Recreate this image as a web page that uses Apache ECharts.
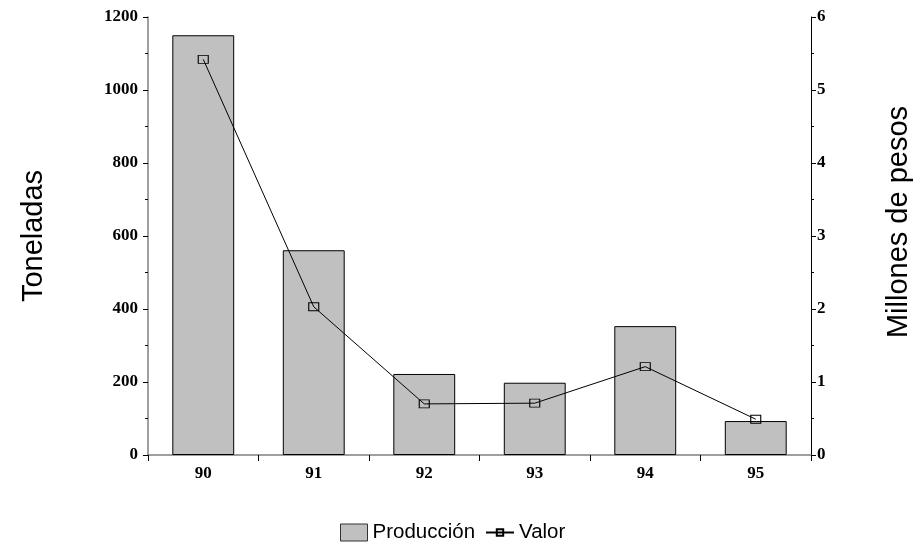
<!DOCTYPE html>
<html>
<head>
<meta charset="utf-8">
<script src="https://cdn.jsdelivr.net/npm/echarts@6/dist/echarts.min.js"></script>
<style>
html, body { margin: 0; padding: 0; background: #fff; }
#chart { width: 917px; height: 546px; }
</style>
</head>
<body>
<div id="chart"></div>
<script>
var years = ['90', '91', '92', '93', '94', '95'];
var produccion = [1150, 561, 222, 198, 353, 93];
var valor = [5.42, 2.03, 0.70, 0.71, 1.21, 0.49];

var labelFont = {
    fontFamily: '"Liberation Serif", "Times New Roman", serif',
    fontWeight: 'bold',
    fontSize: 17,
    color: '#000'
};
var sansFont = '"Liberation Sans", Arial, sans-serif';
var legendText = { fontFamily: sansFont, fontSize: 20.5, color: '#000' };

var chart = echarts.init(document.getElementById('chart'));
chart.setOption({
    animation: false,
    backgroundColor: '#fff',
    grid: { left: 148, right: 106, top: 17, bottom: 91, outerBoundsMode: 'none', containLabel: false },
    legend: [
        {
            left: 335, top: 517,
            itemWidth: 27, itemHeight: 17,
            textStyle: legendText,
            itemStyle: { borderWidth: 1, borderColor: '#333' },
            data: [{ name: 'Producción', icon: 'rect' }]
        },
        {
            left: 480, top: 517,
            itemWidth: 28, itemHeight: 8,
            textStyle: legendText,
            data: ['Valor']
        }
    ],
    xAxis: {
        type: 'category',
        data: years,
        axisLine: { lineStyle: { color: '#808080', width: 1.5 } },
        axisTick: { show: true, length: 6, lineStyle: { color: '#000' } },
        axisLabel: Object.assign({ margin: 10 }, labelFont)
    },
    yAxis: [
        {
            type: 'value',
            min: 0, max: 1200, interval: 200,
            name: 'Toneladas',
            nameLocation: 'middle',
            nameRotate: 90,
            nameGap: 100,
            nameTextStyle: { fontFamily: sansFont, fontSize: 29, color: '#000' },
            axisLine: { show: true, lineStyle: { color: '#808080', width: 1.5 } },
            axisTick: { show: true, length: 5, lineStyle: { color: '#000' } },
            minorTick: { show: true, splitNumber: 2, length: 3, lineStyle: { color: '#000' } },
            splitLine: { show: false },
            axisLabel: Object.assign({ margin: 10, formatter: function (v) { return String(v); } }, labelFont)
        },
        {
            type: 'value',
            min: 0, max: 6, interval: 1,
            name: 'Millones de pesos',
            nameLocation: 'middle',
            nameRotate: 90,
            nameGap: 73,
            nameTextStyle: { fontFamily: sansFont, fontSize: 29, color: '#000', padding: [0, 0, 0, 28] },
            axisLine: { show: true, lineStyle: { color: '#000', width: 1 } },
            axisTick: { show: true, length: 5, lineStyle: { color: '#000' } },
            minorTick: { show: true, splitNumber: 2, length: 3, lineStyle: { color: '#000' } },
            splitLine: { show: false },
            axisLabel: Object.assign({ margin: 6 }, labelFont)
        }
    ],
    series: [
        {
            name: 'Producción',
            type: 'bar',
            data: produccion,
            barWidth: '56%',
            itemStyle: { color: '#c0c0c0', borderColor: '#000', borderWidth: 1 }
        },
        {
            name: 'Valor',
            type: 'line',
            yAxisIndex: 1,
            data: valor,
            symbol: 'rect',
            symbolSize: [10, 8],
            lineStyle: { color: '#000', width: 1 },
            itemStyle: { color: 'rgba(0,0,0,0)', borderColor: '#000', borderWidth: 1 }
        }
    ]
});
</script>
</body>
</html>
